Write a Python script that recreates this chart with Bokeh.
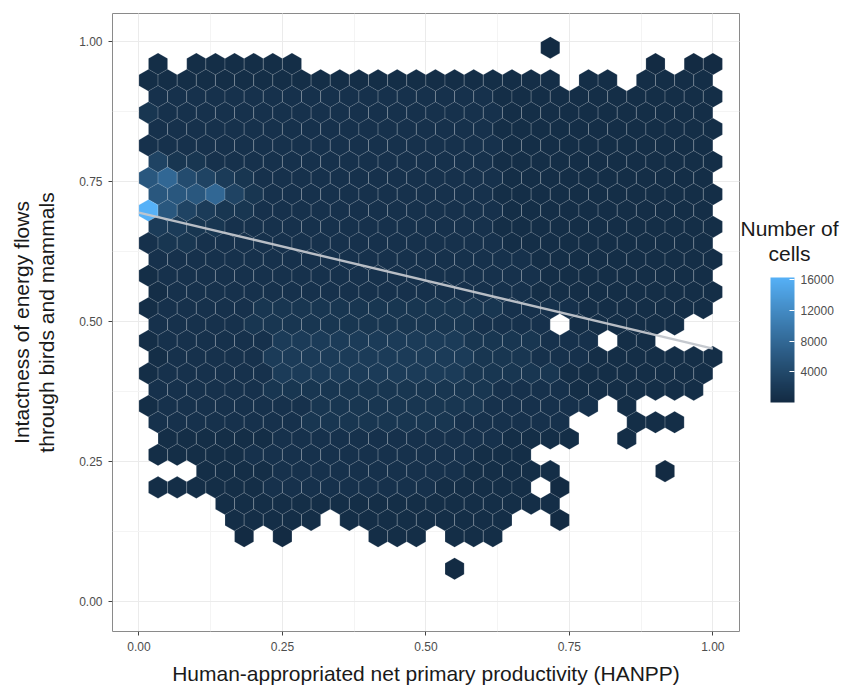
import math
import numpy as np
from bokeh.plotting import figure
from bokeh.models import (ColumnDataSource, LinearColorMapper, ColorBar, FixedTicker,
                          SingleIntervalTicker, NumeralTickFormatter)
from bokeh.embed import file_html
from bokeh.resources import INLINE

# ---------------- data ----------------
# Hexbin grid (30 bins across HANPP); even rows are offset by half a bin.
BINS_X = 30
ROW_Y0 = 0.0584          # y of the lowest hex row
ROW_DY = 0.0291          # vertical distance between hex rows

# Count level codes read from the fill colours ("." = no hex)
LEVEL_COUNTS = {"0": 60, "1": 400, "2": 900, "3": 1500, "4": 2200, "5": 3200,
                "6": 4300, "7": 5800, "8": 7800, "9": 10500, "M": 16300}

# Rows from top (row 32) to bottom (row 0); character k = column k (0..30)
HEX_ROWS_TOP_DOWN = [
    "." * 21 + "0" + "." * 9,                                   # 32
    ".1.111111" + "." * 18 + "0.00",                            # 31
    "1" * 22 + "." + "11" + "." + "1111" + ".",                 # 30
    "." + "2" * 18 + "1" * 12,                                  # 29
    "3" + "2" * 18 + "1" * 11 + ".",                            # 28
    "." + "2" * 18 + "1" * 12,                                  # 27
    "2" + "2" * 18 + "1" * 11 + ".",                            # 26
    ".533" + "2" * 15 + "1" * 12,                               # 25
    "786543" + "2" * 13 + "1" * 11 + ".",                       # 24
    ".777853" + "2" * 12 + "1" * 12,                            # 23
    "M75433" + "2" * 13 + "1" * 11 + ".",                       # 22
    ".4433" + "2" * 14 + "1" * 12,                              # 21
    "233" + "2" * 16 + "1" * 11 + ".",                          # 20
    "." + "2" * 20 + "1" * 10,                                  # 19
    "1" + "2" * 20 + "1" * 9 + ".",                             # 18
    ".1" + "2" * 19 + "1" * 10,                                 # 17
    "1" + "2" * 5 + "3" * 13 + "2" * 4 + "1" * 7 + ".",         # 16
    "." + "2" * 5 + "3" * 12 + "2" * 4 + "." + "1" * 6 + "..",  # 15
    "1" + "2" * 6 + "4" * 10 + "3" * 4 + "2" * 3 + "." + "11" + "....",  # 14
    ".1" + "2" * 5 + "4" * 11 + "3" * 3 + "2" * 3 + "1" * 7,    # 13
    "1" + "2" * 6 + "4" * 10 + "3" * 5 + "1" * 8 + ".",         # 12
    "." + "2" * 6 + "3" * 12 + "2" * 4 + "1" * 7 + ".",         # 11
    "1" + "2" * 8 + "3" * 9 + "2" * 6 + "." + "1" + "." * 5,    # 10
    "." + "2" * 8 + "3" * 8 + "2" * 6 + "..." + "111" + "..",   # 9
    "." + "1" * 6 + "2" * 12 + "1" * 4 + ".." + "1" + "." * 5,  # 8
    "." + "1" * 5 + "2" * 12 + "1" * 3 + "." * 10,              # 7
    "..." + "1" * 4 + "2" * 10 + "1" * 5 + "." * 5 + "0" + "...",  # 6
    "." + "1" * 6 + "2" * 9 + "1" * 5 + "." + "0" + "." * 8,    # 5
    "...." + "1" * 18 + "." * 9,                                # 4
    "....." + "11111" + "." + "1" * 9 + ".." + "0" + "." * 8,   # 3
    "....." + "0" + "." + "0" + "...." + "111" + "." + "111" + "." * 12,  # 2
    "." * 31,                                                   # 1
    "." * 16 + "0" + "." * 14,                                  # 0
]

# Linear-model fit line (intercept / slope)
FIT_X = [0.0, 1.0]
FIT_Y = [0.695, 0.452]

CBAR_TICKS = [4000, 8000, 12000, 16000]
COUNT_LOW, COUNT_HIGH = 1, 16300

X_TITLE = "Human-appropriated net primary productivity (HANPP)"
Y_TITLE = "Intactness of energy flows\nthrough birds and mammals"
LEGEND_TITLE = "Number of\ncells"

# ---------------- build hex table ----------------
hx, hy, hc = [], [], []
n_rows = len(HEX_ROWS_TOP_DOWN)
for i, row in enumerate(HEX_ROWS_TOP_DOWN):
    j = n_rows - 1 - i
    offset = 0.5 if j % 2 == 0 else 0.0
    for k, ch in enumerate(row):
        if ch == ".":
            continue
        hx.append((k + offset) / BINS_X)
        hy.append(ROW_Y0 + j * ROW_DY)
        hc.append(LEVEL_COUNTS[ch])
src = ColumnDataSource(dict(x=hx, y=hy, count=hc))

# ---------------- ggplot-like Lab gradient palette ----------------
def _lin(c):
    c = c / 255.0
    return c / 12.92 if c <= 0.04045 else ((c + 0.055) / 1.055) ** 2.4

def _to_lab(hexcol):
    r, g, b = (_lin(int(hexcol[i:i + 2], 16)) for i in (1, 3, 5))
    X = 0.4124 * r + 0.3576 * g + 0.1805 * b
    Y = 0.2126 * r + 0.7152 * g + 0.0722 * b
    Z = 0.0193 * r + 0.1192 * g + 0.9505 * b
    def f(t):
        return t ** (1 / 3) if t > 0.008856 else 7.787 * t + 16 / 116
    fx, fy, fz = f(X / 0.95047), f(Y), f(Z / 1.08883)
    return 116 * fy - 16, 500 * (fx - fy), 200 * (fy - fz)

def _from_lab(L, a, b):
    fy = (L + 16) / 116
    fx, fz = fy + a / 500, fy - b / 200
    def finv(t):
        return t ** 3 if t ** 3 > 0.008856 else (t - 16 / 116) / 7.787
    X, Y, Z = finv(fx) * 0.95047, finv(fy), finv(fz) * 1.08883
    rgb = (3.2406 * X - 1.5372 * Y - 0.4986 * Z,
           -0.9689 * X + 1.8758 * Y + 0.0415 * Z,
           0.0557 * X - 0.2040 * Y + 1.0570 * Z)
    out = []
    for v in rgb:
        v = min(1.0, max(0.0, v))
        s = 12.92 * v if v <= 0.0031308 else 1.055 * v ** (1 / 2.4) - 0.055
        out.append(int(round(s * 255)))
    return "#%02x%02x%02x" % tuple(out)

lo_lab, hi_lab = _to_lab("#132B43"), _to_lab("#56B1F7")
PALETTE = [_from_lab(*[lo_lab[c] + (hi_lab[c] - lo_lab[c]) * t / 255 for c in range(3)])
           for t in range(256)]
mapper = LinearColorMapper(palette=PALETTE, low=COUNT_LOW, high=COUNT_HIGH)

# ---------------- figure ----------------
FONT = "Liberation Sans"
TITLE_SIZE = "21px"
TICK_SIZE = "12px"
FW, FH = 627, 618
XR, YR = (-0.046, 1.0464), (-0.0536, 1.0507)

p = figure(frame_width=FW, frame_height=FH, x_range=XR, y_range=YR,
           output_backend="svg", toolbar_location=None,
           min_border_left=112, min_border_top=13,
           min_border_right=107, min_border_bottom=57)
p.background_fill_color = "white"
p.border_fill_color = "white"
p.outline_line_color = "#8a8a8a"
p.outline_line_width = 1

px_per_x = FW / (XR[1] - XR[0])
hex_size = (px_per_x / BINS_X) * 2 / math.sqrt(3)

p.scatter("x", "y", source=src, marker="hex", size=hex_size, angle=math.pi / 2,
          fill_color={"field": "count", "transform": mapper},
          line_color="white", line_alpha=0.28, line_width=0.6)

p.line(FIT_X, FIT_Y, line_color="#c2c6cc", line_width=2.4, line_alpha=0.95)

for ax in (p.xaxis[0], p.yaxis[0]):
    ax.ticker = SingleIntervalTicker(interval=0.25, num_minor_ticks=2)
    ax.formatter = NumeralTickFormatter(format="0.00")
    ax.axis_line_color = None
    ax.major_tick_line_color = "#444444"
    ax.major_tick_out = 4
    ax.major_tick_in = 0
    ax.minor_tick_line_color = None
    ax.major_label_text_font = FONT
    ax.major_label_text_font_size = TICK_SIZE
    ax.major_label_text_color = "#4d4d4d"
    ax.axis_label_text_font = FONT
    ax.axis_label_text_font_size = TITLE_SIZE
    ax.axis_label_text_font_style = "normal"
    ax.axis_label_text_color = "#1a1a1a"
    ax.axis_label_text_line_height = 1.1

p.xaxis.axis_label = X_TITLE
p.yaxis.axis_label = Y_TITLE
p.xaxis.major_label_standoff = 6
p.yaxis.major_label_standoff = 6
p.xaxis.axis_label_standoff = 8
p.yaxis.axis_label_standoff = 18

p.xgrid.grid_line_color = "#ebebeb"
p.ygrid.grid_line_color = "#ebebeb"
p.xgrid.minor_grid_line_color = "#f4f4f4"
p.ygrid.minor_grid_line_color = "#f4f4f4"

# colour bar (frame-relative position: bar spans page x 770-794, y 277-402)
cbar = ColorBar(color_mapper=mapper, location=(658, 229), width=24, height=125,
                padding=0, ticker=FixedTicker(ticks=CBAR_TICKS),
                major_label_text_font=FONT, major_label_text_font_size=TICK_SIZE,
                major_label_text_color="#4d4d4d", label_standoff=6,
                major_tick_line_color="white", major_tick_in=5, major_tick_out=0,
                bar_line_color=None, border_line_color=None,
                background_fill_color=None)
p.add_layout(cbar, "center")

# legend title: carried by a horizontal colour bar whose scale is hidden
title_box = ColorBar(color_mapper=mapper, orientation="horizontal", location=(628, 364),
                     width=100, height=1, padding=0, scale_alpha=0,
                     ticker=FixedTicker(ticks=[]), major_tick_line_color=None,
                     major_label_text_alpha=0, bar_line_color=None,
                     border_line_color=None, background_fill_color=None,
                     title=LEGEND_TITLE, title_text_font=FONT,
                     title_text_font_size=TITLE_SIZE, title_text_font_style="normal",
                     title_text_color="#1a1a1a", title_text_align="center",
                     title_text_line_height=1.1, title_standoff=2)
p.add_layout(title_box, "center")

open("out.html", "w").write(file_html(p, INLINE))
